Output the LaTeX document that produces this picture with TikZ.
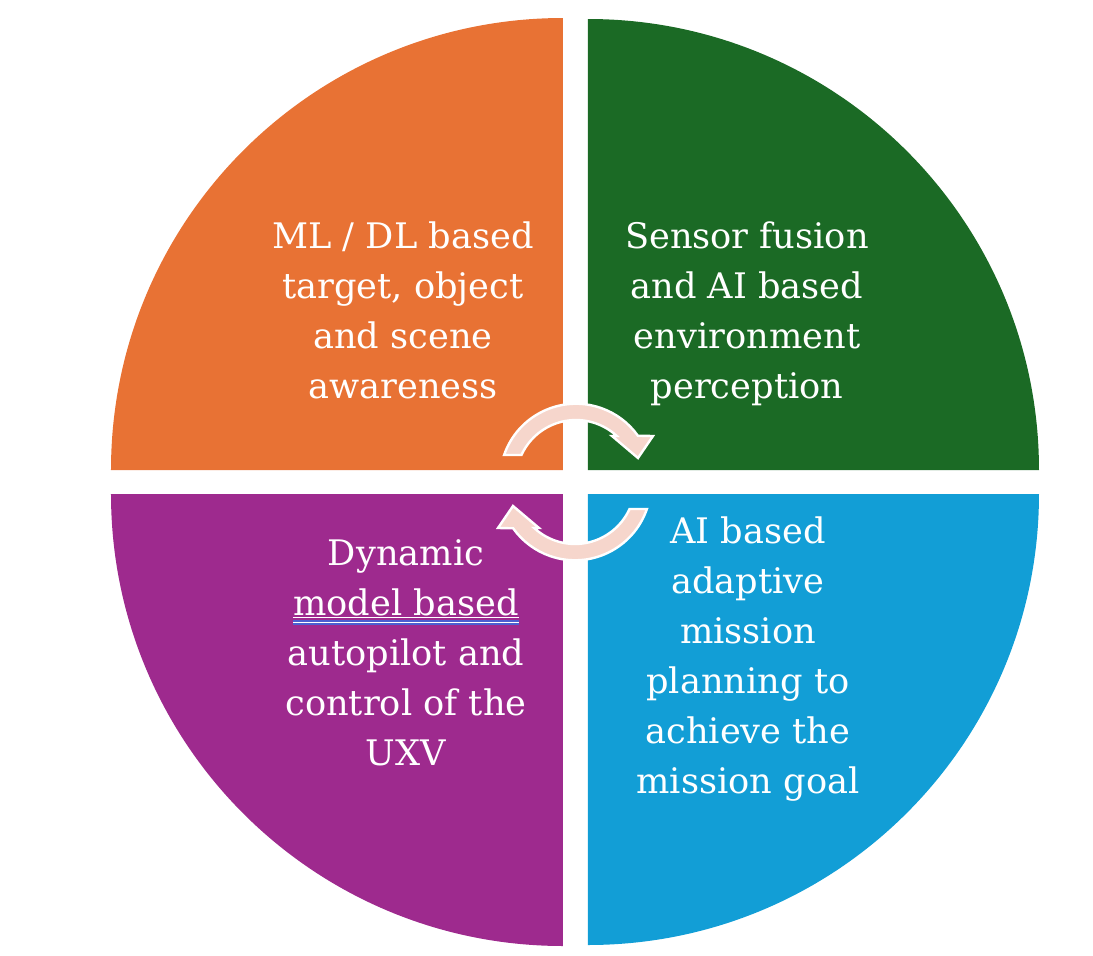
\documentclass[tikz,border=0pt]{standalone}
\usepackage{tikz}
\usepackage{fontspec}
\setmainfont{DejaVu Serif}

\definecolor{qorange}{HTML}{E87234}
\definecolor{qgreen}{HTML}{1B6A25}
\definecolor{qpurple}{HTML}{9E2A8E}
\definecolor{qblue}{HTML}{129ED6}
\definecolor{qpink}{HTML}{F6D6CC}
\definecolor{uline}{HTML}{4A5FD0}
\newcommand{\spellmark}[1]{\setbox0\hbox{#1}\rlap{\copy0}\rlap{\color{uline}\rule[-5pt]{\wd0}{2.6pt}}\rlap{\color{white}\rule[-3.8pt]{\wd0}{0.5pt}}\rule[-1.6pt]{\wd0}{0.6pt}}

\begin{document}
\begin{tikzpicture}[x=0.5pt,y=0.5pt]
\tikzstyle{every node}+=[inner sep=0pt]
\tikzstyle{qtext}=[text=white,align=center,anchor=base,font=\fontsize{17.6}{25}\selectfont]
\tikzstyle{turn}=[fill=qpink,draw=white,line width=1.2pt,line join=miter]
\useasboundingbox (-575.5,-473) rectangle (517.5,482);
\fill [qorange] (-12.5,12) -- (-464.5,12) arc (180:90:452) -- cycle;
\fill [qgreen] (12.5,12) -- (463.5,12) arc (0:90:451) -- cycle;
\fill [qpurple] (-12.5,-12) -- (-464.5,-12) arc (180:270:452) -- cycle;
\fill [qblue] (12.5,-12) -- (463.5,-12) arc (0:-90:451) -- cycle;
\begin{scope}[shift={(0.5,2)}]
\draw [turn] (-71.9,25) arc (161:35.4:76) -- (77,44) -- (62,22) -- (36,44) -- (47.2:60) arc (47.2:155.4:60) -- cycle;
\end{scope}
\begin{scope}[rotate=180,shift={(0.5,2)}]
\draw [turn] (-71.9,25) arc (161:35.4:76) -- (77,44) -- (62,22) -- (36,44) -- (47.2:60) arc (47.2:155.4:60) -- cycle;
\end{scope}
\node [qtext] (aware) at (-172.5,84) {ML / DL based\\target, object\\and scene\\awareness};
\node [qtext] (percept) at (171.5,84) {Sensor fusion\\and AI based\\environment\\perception};
\node [qtext] (autopilot) at (-169.5,-283) {Dynamic\\\spellmark{model based}\\autopilot and\\control of the\\UXV};
\node [qtext] (mission) at (172.5,-311) {AI based\\adaptive\\mission\\planning to\\achieve the\\mission goal};
\end{tikzpicture}
\end{document}
